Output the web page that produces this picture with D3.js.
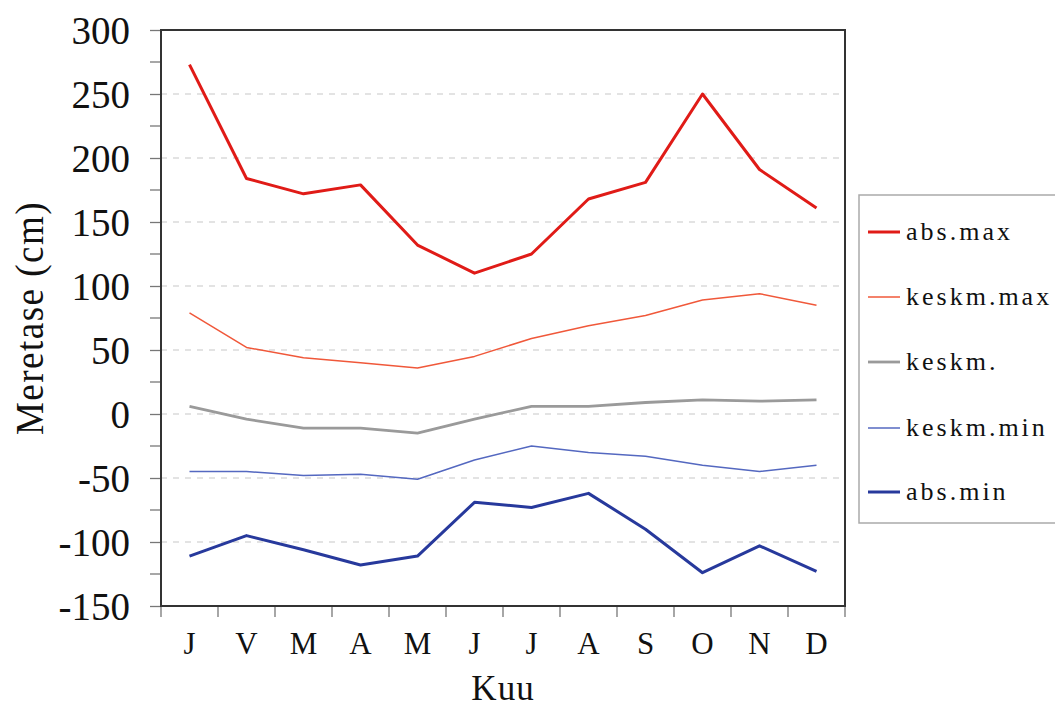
<!DOCTYPE html>
<html><head><meta charset="utf-8">
<script src="https://cdn.jsdelivr.net/npm/d3@7/dist/d3.min.js"></script>
<style>body{margin:0;background:#fff}svg{display:block}
svg text{font-family:"Liberation Serif","Times New Roman",Times,serif;}</style>
</head><body>
<script>
const months = ["J","V","M","A","M","J","J","A","S","O","N","D"];
const seriesNames = ["abs.max","keskm.max","keskm.","keskm.min","abs.min"];
const absMax   = [273,184,172,179,132,110,125,168,181,250,191,161];
const keskmMax = [79,52,44,40,36,45,59,69,77,89,94,85];
const keskm    = [6,-4,-11,-11,-15,-4,6,6,9,11,10,11];
const keskmMin = [-45,-45,-48,-47,-51,-36,-25,-30,-33,-40,-45,-40];
const absMin   = [-111,-95,-106,-118,-111,-69,-73,-62,-90,-124,-103,-123];
const yTicks = [-150,-100,-50,0,50,100,150,200,250,300];

const series = [
  {name:seriesNames[0], values:absMax,   color:"#e01b17", width:3},
  {name:seriesNames[1], values:keskmMax, color:"#f0583a", width:1.5},
  {name:seriesNames[2], values:keskm,    color:"#9a9a9a", width:2.8},
  {name:seriesNames[3], values:keskmMin, color:"#5468c0", width:1.5},
  {name:seriesNames[4], values:absMin,   color:"#27399c", width:3}
];

const W=1055,H=711;
const m={left:161,right:845,top:30,bottom:606};
const svg=d3.select("body").append("svg").attr("width",W).attr("height",H);

const x=d3.scaleBand().domain(d3.range(12)).range([m.left,m.right]);
const y=d3.scaleLinear().domain([-150,300]).range([m.bottom,m.top]);

// grid
svg.append("g").selectAll("line").data(yTicks.filter(d=>d>-150&&d<300)).join("line")
  .attr("x1",m.left).attr("x2",m.right).attr("y1",d=>y(d)).attr("y2",d=>y(d))
  .attr("stroke","#c8c8c8").attr("stroke-width",1.2).attr("stroke-dasharray","6,6");

// y axis
const yAxis=svg.append("g").attr("transform",`translate(${m.left},0)`)
  .call(d3.axisLeft(y).tickValues(yTicks).tickSize(11).tickPadding(20).tickFormat(d=>String(d)));
yAxis.select(".domain").remove();
yAxis.selectAll(".tick line").attr("stroke","#777").attr("stroke-width",1.3);
yAxis.selectAll("text").attr("font-family",null).attr("font-size",39).attr("fill","#111").attr("dy","0.34em");
// minor ticks
svg.append("g").selectAll("line").data(d3.range(-125,300,50)).join("line")
  .attr("x1",m.left-11).attr("x2",m.left).attr("y1",d=>y(d)).attr("y2",d=>y(d))
  .attr("stroke","#777").attr("stroke-width",1.3);

// x axis
const bounds=d3.range(13).map(i=>m.left+i*x.bandwidth());
svg.append("g").selectAll("line").data(bounds).join("line")
  .attr("x1",d=>d).attr("x2",d=>d).attr("y1",m.bottom).attr("y2",m.bottom+11)
  .attr("stroke","#777").attr("stroke-width",1.3);
svg.append("g").selectAll("text").data(months).join("text")
  .attr("x",(d,i)=>x(i)+x.bandwidth()/2).attr("y",654)
  .attr("text-anchor","middle").attr("font-size",31).attr("fill","#111")
  .text(d=>d);

// frame
svg.append("rect").attr("x",m.left).attr("y",m.top).attr("width",m.right-m.left).attr("height",m.bottom-m.top)
  .attr("fill","none").attr("stroke","#333").attr("stroke-width",2);

// lines
const line=d3.line().x((d,i)=>x(i)+x.bandwidth()/2).y(d=>y(d));
svg.append("g").selectAll("path").data(series).join("path")
  .attr("d",d=>line(d.values)).attr("fill","none")
  .attr("stroke",d=>d.color).attr("stroke-width",d=>d.width).attr("stroke-linejoin","round");

// axis titles
svg.append("text").attr("x",(m.left+m.right)/2).attr("y",700).attr("text-anchor","middle")
  .attr("font-size",35).attr("fill","#111").attr("letter-spacing",1).text("Kuu");
svg.append("text").attr("transform",`translate(43,318) rotate(-90) scale(1,1.1)`)
  .attr("text-anchor","middle").attr("font-size",37).attr("fill","#111")
  .attr("letter-spacing",1.5).text("Meretase (cm)");

// legend
const lg=svg.append("g");
lg.append("rect").attr("x",859).attr("y",195).attr("width",210).attr("height",328)
  .attr("fill","#fff").attr("stroke","#aaa").attr("stroke-width",1.5);
const ly=[232,297,362,428,492];
series.forEach((s,i)=>{
  lg.append("line").attr("x1",868).attr("x2",900).attr("y1",ly[i]).attr("y2",ly[i])
    .attr("stroke",s.color).attr("stroke-width",s.width);
  lg.append("text").attr("x",906).attr("y",ly[i]+8).attr("font-size",26)
    .attr("letter-spacing",3).attr("fill","#111").text(s.name);
});
</script>
</body></html>
